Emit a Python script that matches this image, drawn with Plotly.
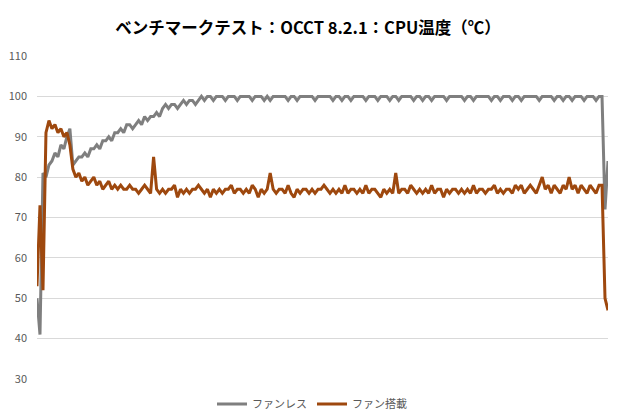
import plotly.graph_objects as go

title_text = "ベンチマークテスト：OCCT 8.2.1：CPU温度（℃）"
series_names = ["ファンレス", "ファン搭載"]
y_ticks = [30, 40, 50, 60, 70, 80, 90, 100, 110]

fanless = [
    50, 41, 81, 80, 83, 84, 86, 85, 88, 87,
    90, 92, 83, 84, 85, 85, 86, 85, 87, 87,
    88, 87, 89, 89, 90, 89, 91, 91, 92, 91,
    93, 93, 92, 93, 94, 93, 95, 94, 95, 95,
    96, 95, 97, 98, 97, 98, 98, 97, 98, 99,
    98, 99, 99, 98, 99, 100, 99, 100, 100, 99,
    100,
    100, 100, 99, 100, 100, 100, 99, 100, 100, 100,
    100, 99, 100, 100, 100, 99, 100, 99, 100, 100,
    100, 100, 100, 99, 100, 100, 99, 100, 100, 100,
    100, 100, 99, 100, 100, 100, 100, 100, 99, 100,
    100, 99, 100, 100, 99, 100, 100, 100, 100, 99,
    100, 100, 100, 99, 100, 100, 100, 99, 100, 100,
    99, 100, 100, 100, 100, 99, 100, 100, 99, 100,
    100, 99, 100, 100, 100, 100, 99, 100, 100, 100,
    100, 100, 99, 100, 100, 99, 100, 100, 100, 100,
    100, 99, 100, 100, 99, 100, 100, 100, 99, 100,
    100, 99, 100, 100, 100, 100, 100, 99, 100, 100,
    100, 100, 99, 100, 100, 99, 100, 100, 99, 100,
    100, 100, 99, 100, 100, 100, 99, 100,
    100, 72, 84,
]

with_fan = [
    53, 73, 52, 91, 94, 92, 93, 91, 92, 90,
    91, 88, 82, 80, 81, 79, 80, 78, 79, 80,
    78, 79, 77, 78, 79, 77, 78, 77, 78, 77,
    77, 78, 77, 77, 76, 77, 78, 77, 76, 85,
    77, 76, 77, 76, 77, 77, 78, 75, 77, 76,
    77, 76, 77, 77, 78, 77, 76, 77, 75, 77,
    76, 77, 76, 77, 77, 78, 76, 77, 77, 76,
    77, 76, 78, 77, 75, 77, 76, 77, 81, 77,
    76, 77, 77, 76, 78, 76, 75, 77, 76, 77,
    77, 76, 77, 76, 77, 77, 78, 77, 76, 77,
    76, 77, 76, 78, 76, 77, 77, 76, 77, 76,
    78, 76, 77, 77, 76, 75, 77, 76, 77, 76,
    81, 76, 77, 77, 76, 78, 77, 76, 77, 76,
    77, 76, 78, 76, 77, 77, 75, 77, 76, 77,
    77, 76, 77, 76, 77, 76, 78, 76, 77, 77,
    76, 77, 77, 78, 76, 77, 76, 77, 77, 76,
    78, 77, 78, 76, 77, 78, 77, 76, 78, 80,
    77, 78, 76, 78, 77, 76, 78, 77, 80, 77,
    78, 76, 78, 77, 76, 78, 77, 76, 78, 78,
    50, 47,
]

t = list(range(len(fanless)))

FONT = "Noto Sans CJK JP"
W, H = 612, 412  # page body has an 8px default margin

fig = go.Figure()
fig.add_trace(go.Scatter(x=t, y=fanless, mode="lines", name=series_names[0],
                         line=dict(color="#7f7f7f", width=3)))
fig.add_trace(go.Scatter(x=t, y=with_fan, mode="lines", name=series_names[1],
                         line=dict(color="#9e480e", width=3)))

fig.update_layout(
    width=W, height=H,
    margin=dict(l=29, r=12, t=48, b=41, autoexpand=False),
    paper_bgcolor="white", plot_bgcolor="white",
    title=dict(text="<b>" + title_text + "</b>", x=300 / W, xanchor="center",
               xref="container", y=1 - 20 / H, yref="container", yanchor="middle",
               font=dict(family=FONT, size=16.5, color="#000000")),
    xaxis=dict(range=[0, len(t) - 1], showticklabels=False, showgrid=False,
               zeroline=False, showline=False, ticks="", automargin=False),
    yaxis=dict(range=[30, 110], tickvals=y_ticks, showgrid=True, gridcolor="#d9d9d9",
               gridwidth=1, zeroline=False, showline=False, ticks="", automargin=False,
               ticklabelstandoff=9,
               tickfont=dict(family=FONT, size=11, color="#595959")),
    legend=dict(orientation="h", xref="container", yref="container",
                x=304 / W, xanchor="center", y=1 - 396 / H, yanchor="middle",
                font=dict(family=FONT, size=11, color="#595959"),
                itemwidth=30, traceorder="normal"),
    showlegend=True,
)

fig.write_html("out.html")
